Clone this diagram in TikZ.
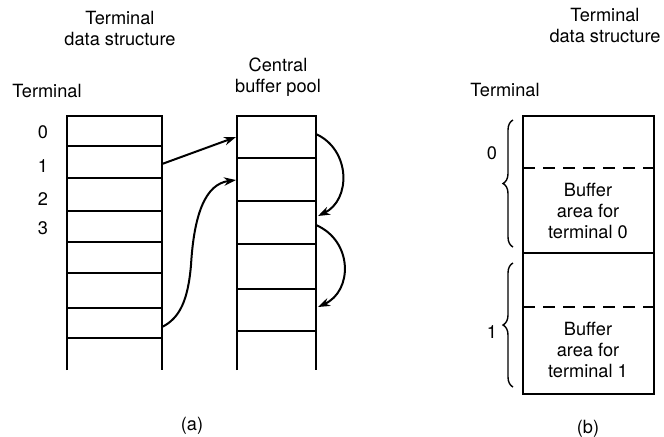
\documentclass[tikz,border=0pt]{standalone}
\usepackage{fontspec}
\setmainfont{TeX Gyre Heros}
\usetikzlibrary{arrows.meta,decorations.pathreplacing}

\begin{document}
\begin{tikzpicture}[x=0.5pt, y=-0.5pt,
    lbl/.style={font=\fontsize{9.1}{10.5}\selectfont, align=center, inner sep=0pt},
    cell/.style={line width=0.7pt},
    ptr/.style={->, line width=1pt},
    >={Stealth[length=6pt,width=4.2pt]}]

  \useasboundingbox (0,0) rectangle (664,436);

  % (a) terminal data structure
  \draw [cell] (67,370) -- (67,116) -- (162,116) -- (162,370);
  \foreach \y in {146,178,211,242,273,308,338}
    \draw [cell] (67,\y) -- (162,\y);

  % (a) central buffer pool
  \draw [cell] (237,370) -- (237,116) -- (316,116) -- (316,370);
  \foreach \y in {158,201,244,289,331}
    \draw [cell] (237,\y) -- (316,\y);

  \node [lbl] (ttlA)  at (120,28) {Terminal\\data structure};
  \node [lbl] (termA) at (47,91)  {Terminal};
  \node [lbl] (pool)  at (278,77) {Central\\buffer pool};
  \node [lbl] (t0) at (43,132) {0};
  \node [lbl] (t1) at (43,166) {1};
  \node [lbl] (t2) at (43,199) {2};
  \node [lbl] (t3) at (43,228) {3};
  \node [lbl] (capA) at (192,426) {(a)};

  % pointers
  \coordinate (L1) at (162,164);
  \coordinate (L7) at (162,327);
  \coordinate (P0) at (236,137);
  \coordinate (P1) at (236,180);
  \coordinate (P0R) at (316,134);
  \coordinate (P2R) at (318,216);
  \coordinate (P2S) at (316,225);
  \coordinate (P4R) at (318,307);

  \draw [ptr] (L1) -- (P0);
  \draw [ptr] (L7) .. controls (180,318) and (188,300) .. (191,265)
                   .. controls (194,215) and (205,184) .. (P1);
  \draw [ptr] (P0R) .. controls (351,150) and (351,200) .. (P2R);
  \draw [ptr] (P2S) .. controls (353,241) and (353,291) .. (P4R);

  % (b) buffer per terminal
  \draw [cell] (523,116) rectangle (654,394);
  \draw [cell] (523,253) -- (654,253);
  \draw [cell, dash pattern={on 6pt off 4pt}] (523,168) -- (654,168);
  \draw [cell, dash pattern={on 6pt off 4pt}] (523,307) -- (654,307);

  \node [lbl] (ttlB)  at (605,25) {Terminal\\data structure};
  \node [lbl] (termB) at (505,90) {Terminal};
  \node [lbl] (buf0) at (588,211) {Buffer\\area for\\terminal 0};
  \node [lbl] (buf1) at (588,350) {Buffer\\area for\\terminal 1};
  \node [lbl] (capB) at (588,429) {(b)};

  % braces
  \draw [cell, decorate, decoration={brace, amplitude=5pt}] (513,247) -- (513,120);
  \draw [cell, decorate, decoration={brace, amplitude=5pt}] (513,387) -- (513,263);
  \node [lbl] (b0) at (492,153) {0};
  \node [lbl] (b1) at (492,332) {1};

\end{tikzpicture}
\end{document}
